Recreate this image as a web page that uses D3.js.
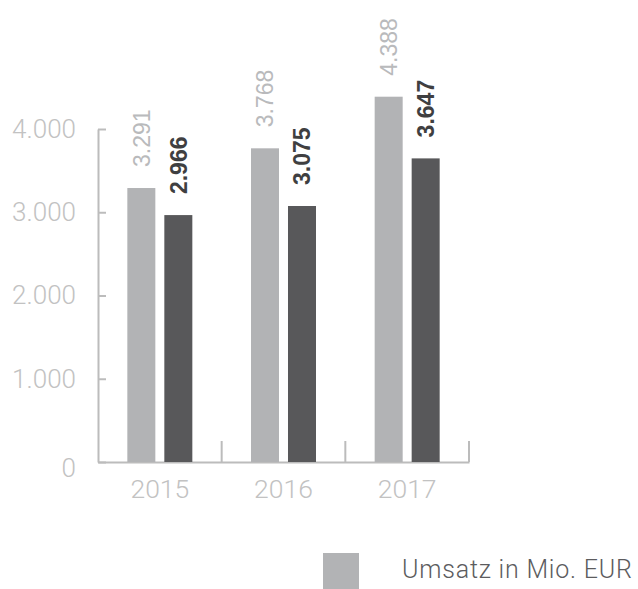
<!DOCTYPE html>
<html>
<head>
<meta charset="utf-8">
<script src="https://cdn.jsdelivr.net/npm/d3@7"></script>
<style>
  body { margin: 0; background: #fff; }
  svg { display: block; }
</style>
</head>
<body>
<script>
// data
var years = ["2015", "2016", "2017"];
var umsatz = [3291, 3768, 4388];
var zweiteReihe = [2966, 3075, 3647];
var yTicks = [0, 1000, 2000, 3000, 4000];
var legendLabels = ["Umsatz in Mio. EUR"];

var colors = ["#b2b3b5", "#58585a"];
var labelColors = ["#b9babc", "#3f3f41"];
var fontFam = "Roboto, 'Liberation Sans', Arial, sans-serif";

var svg = d3.select("body").append("svg")
    .attr("width", 638)
    .attr("height", 589);

var x = d3.scaleBand()
    .domain(years)
    .range([98, 469])
    .padding(0);

var y = d3.scaleLinear()
    .domain([0, 4000])
    .range([462, 129]);

// inner scale for the two bars of a year
var bw = x.bandwidth();
var x1 = d3.scaleBand()
    .domain([0, 1])
    .range([bw / 2 - 32.5, bw / 2 + 32.5])
    .paddingInner(0.243);

var rows = years.map(function(yr, i) {
  return {year: yr, values: [umsatz[i], zweiteReihe[i]]};
});

function fmt(d) { return d3.format(",")(d).replace(/,/g, "."); }

// y axis, ticks point inwards
var yAxis = svg.append("g")
    .attr("transform", "translate(98,0)")
    .call(d3.axisLeft(y).tickValues(yTicks).tickSize(-8).tickSizeOuter(0).tickPadding(22)
      .tickFormat(fmt));
yAxis.select(".domain").attr("stroke", "#bcbcbc").attr("stroke-width", 2);
yAxis.selectAll(".tick line").attr("stroke", "#bcbcbc").attr("stroke-width", 2);
yAxis.selectAll(".tick text")
    .attr("fill", "#c2c2c2")
    .attr("dy", function(d) { return d == 0 ? "0.55em" : "0.32em"; })
    .style("font-family", fontFam)
    .style("font-weight", 300)
    .style("font-size", "26px");

// x axis
var xAxis = svg.append("g")
    .attr("transform", "translate(0,462)")
    .call(d3.axisBottom(x).tickSize(0).tickPadding(17));
xAxis.select(".domain").attr("stroke", "#bcbcbc").attr("stroke-width", 2);
xAxis.selectAll(".tick text")
    .attr("fill", "#c2c2c2")
    .style("font-family", fontFam)
    .style("font-weight", 300)
    .style("font-size", "26.5px");

// separator ticks between the years
xAxis.selectAll(".sep")
    .data(years)
  .enter().append("line")
    .attr("class", "sep")
    .attr("x1", function(d) { return x(d) + bw; })
    .attr("x2", function(d) { return x(d) + bw; })
    .attr("y1", 0)
    .attr("y2", -21)
    .attr("stroke", "#bcbcbc")
    .attr("stroke-width", 2);

var groups = svg.selectAll(".year")
    .data(rows)
  .enter().append("g")
    .attr("class", "year")
    .attr("transform", function(d) { return "translate(" + x(d.year) + ",0)"; });

groups.selectAll("rect")
    .data(function(d) { return d.values; })
  .enter().append("rect")
    .attr("x", function(d, i) { return x1(i); })
    .attr("width", x1.bandwidth())
    .attr("y", function(d) { return y(d); })
    .attr("height", function(d) { return y(0) - y(d); })
    .attr("fill", function(d, i) { return colors[i]; });

// rotated value labels
groups.selectAll("text.val")
    .data(function(d) { return d.values; })
  .enter().append("text")
    .attr("class", "val")
    .attr("transform", function(d, i) {
      return "translate(" + (x1(i) + x1.bandwidth() / 2) + "," + (y(d) - 21) + ") rotate(-90)";
    })
    .attr("dy", "0.36em")
    .attr("fill", function(d, i) { return labelColors[i]; })
    .style("font-family", "'Liberation Sans', Arial, sans-serif")
    .style("font-weight", function(d, i) { return i == 1 ? "bold" : "normal"; })
    .style("font-size", "23px")
    .text(fmt);

// legend
var legend = svg.append("g").attr("transform", "translate(323,553)");
legend.append("rect")
    .attr("width", 36)
    .attr("height", 36)
    .attr("fill", colors[0]);
legend.append("text")
    .attr("x", 79)
    .attr("y", 25)
    .attr("fill", "#5c5c5e")
    .style("font-family", fontFam)
    .style("font-weight", 300)
    .style("font-size", "25px")
    .style("letter-spacing", "0.8px")
    .text(legendLabels[0]);
</script>
</body>
</html>
